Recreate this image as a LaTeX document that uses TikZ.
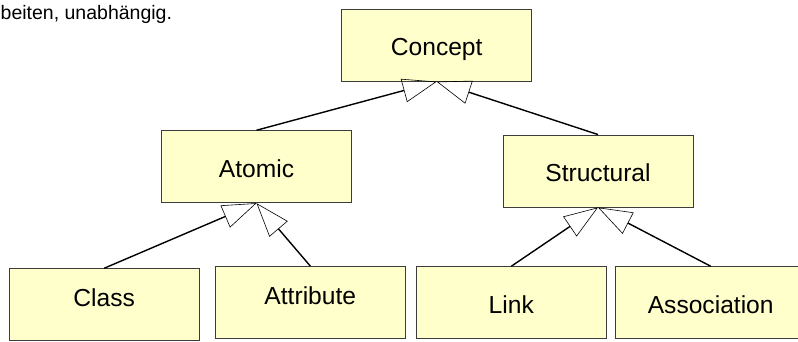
\documentclass[tikz,border=0pt]{standalone}
\usepackage{fontspec}
\setmainfont{Liberation Sans}
\usetikzlibrary{positioning,arrows.meta}
\definecolor{boxfill}{HTML}{FFFFCC}
\definecolor{boxline}{HTML}{3C3C3C}

\begin{document}
\begin{tikzpicture}[-,>={Triangle[open,length=34pt,width=24pt,line width=0.6pt]},on grid,line width=1.4pt,
    main node/.style={rectangle,draw=boxline,line width=0.9pt,fill=boxfill,minimum width=190pt,minimum height=72pt,inner sep=0pt,font=\fontsize{24.6}{29}\selectfont,text height=20.7pt,text depth=0pt},
    low node/.style={text height=17.7pt,text depth=14pt}]

            \useasboundingbox (0,0) rectangle (798pt,-342pt);
            \clip (0,0) rectangle (798pt,-342pt);

            \node[anchor=base west,inner sep=0pt,font=\fontsize{19.5}{23}\selectfont] (head) at (0pt,-19.5pt) {beiten, unabhängig.};

            \node[main node] (concept) at (436.7pt,-45.2pt) {Concept};
            \node[main node] (atomic) [below left=121.5pt and 180.2pt of concept] {Atomic};
            \node[main node] (structural) [below right=125.8pt and 161.3pt of concept] {Structural};
            \node[main node,low node] (class) [below left=138pt and 152.3pt of atomic] {Class};
            \node[main node,low node] (attribute) [below right=135.8pt and 53.8pt of atomic] {Attribute};
            \node[main node] (link) [below left=131.7pt and 86.7pt of structural] {Link};
            \node[main node] (association) [below right=131.7pt and 112.7pt of structural] {Association};

            \draw[->] (atomic.north) to (concept.south);
            \draw[->] (structural.north) to (concept.south);
            \draw[->] (class.north) to (atomic.south);
            \draw[->] (attribute.north) to (atomic.south);
            \draw[->] (link.north) to (structural.south);
            \draw[->] (association.north) to (structural.south);

            ;
        \end{tikzpicture}
\end{document}
